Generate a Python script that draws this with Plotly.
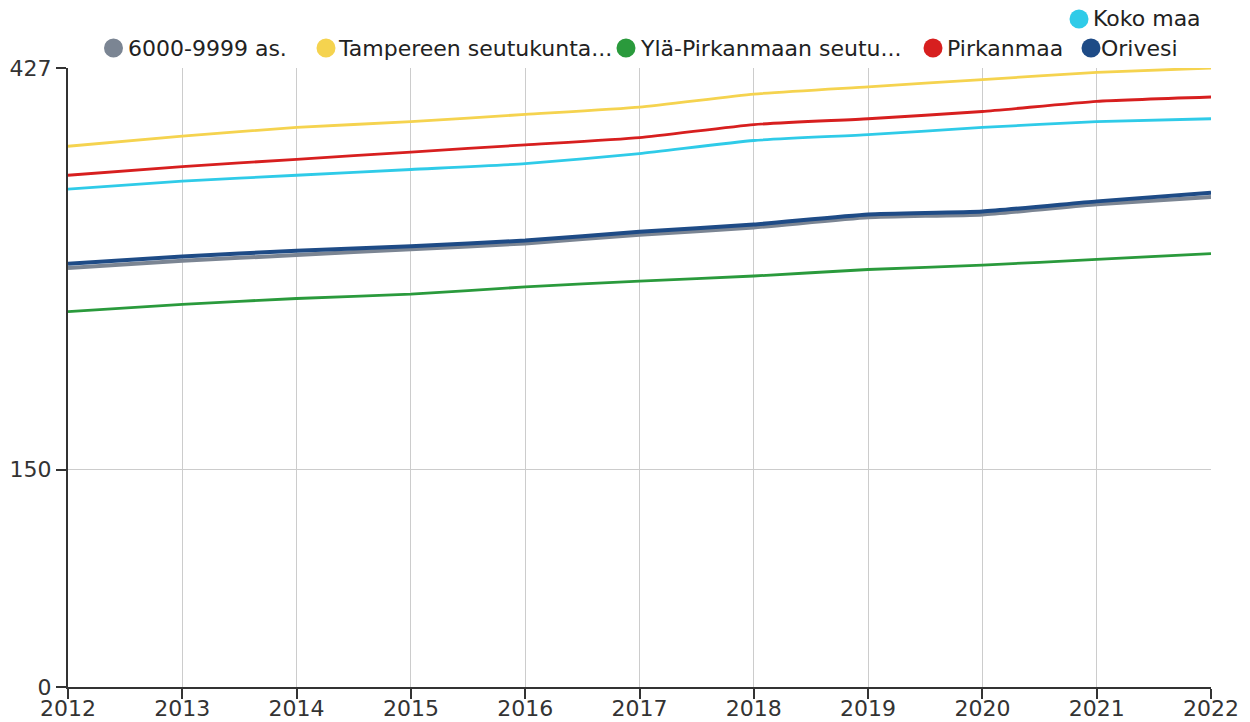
import plotly.graph_objects as go

years = [2012, 2013, 2014, 2015, 2016, 2017, 2018, 2019, 2020, 2021, 2022]

names = ["6000-9999 as.", "Tampereen seutukunta...", "Ylä-Pirkanmaan seutu...", "Pirkanmaa", "Orivesi", "Koko maa"]
colors = ["#7b8593", "#f5d34f", "#2a9a3c", "#d71f1f", "#1e4b86", "#2fcbe8"]

v_6000 = [289, 294, 298, 302, 306, 312, 317, 324, 326, 333, 338]
v_tampere = [373, 380, 386, 390, 395, 400, 409, 414, 419, 424, 427]
v_yla = [259, 264, 268, 271, 276, 280, 283.5, 288, 291, 295, 299]
v_pirkanmaa = [353, 359, 364, 369, 374, 379, 388, 392, 397, 404, 407]
v_orivesi = [292, 297, 301, 304, 308, 314, 319, 326, 328, 335, 341]
v_koko = [343.5, 349, 353, 357, 361, 368, 377, 381, 386, 390, 392]

series = [v_6000, v_tampere, v_yla, v_pirkanmaa, v_orivesi, v_koko]
widths = [4, 2.8, 2.8, 2.8, 4, 2.8]

y_ticks = [0, 150, 427]

# page has an 8px body margin; size the figure so the plot area lands at (68..1211, 68..687)
OFF = 8
W, H = 1242, 714
ML, MR, MT, MB = 60, 39, 60, 35
PW, PH = W - ML - MR, H - MT - MB

fig = go.Figure()

order = [0, 1, 2, 3, 5, 4]
for i in order:
    fig.add_trace(go.Scatter(
        x=years, y=series[i], mode="lines", name=names[i],
        line=dict(color=colors[i], width=widths[i], shape="spline", smoothing=0.5),
        showlegend=False, hoverinfo="x+y+name",
    ))

# custom legend: (marker center x, text left x, row center y) in page pixels
legend_pos = [
    (113.5, 127, 48),
    (326, 337, 48),
    (626, 639, 48),
    (933, 946, 48),
    (1091, 1100, 48),
    (1079, 1092, 19),
]
shapes = []
annotations = []
for i, (mx, tx, py) in enumerate(legend_pos):
    xp = (mx - OFF - ML) / PW
    yp = (H - MB - (py - OFF)) / PH
    shapes.append(dict(
        type="circle", xref="paper", yref="paper",
        xsizemode="pixel", ysizemode="pixel",
        xanchor=xp, yanchor=yp, x0=-9.5, x1=9.5, y0=-9.5, y1=9.5,
        fillcolor=colors[i], line=dict(width=0), layer="above",
    ))
    annotations.append(dict(
        text=names[i], xref="paper", yref="paper",
        x=(tx - OFF - ML) / PW, y=yp, xanchor="left", yanchor="middle",
        showarrow=False, borderpad=0,
        font=dict(family="DejaVu Sans", size=22, color="#222222"),
    ))

fig.update_layout(
    width=W, height=H,
    margin=dict(l=ML, r=MR, t=MT, b=MB),
    paper_bgcolor="white", plot_bgcolor="white",
    showlegend=False,
    font=dict(family="DejaVu Sans", size=22, color="#333333"),
    xaxis=dict(
        range=[2012, 2022], tickvals=years, ticktext=[str(y) for y in years],
        showgrid=True, gridcolor="#cccccc", gridwidth=1,
        showline=True, linecolor="#333333", linewidth=2,
        ticks="outside", ticklen=10, tickcolor="#333333", tickwidth=2,
        ticklabelstandoff=-9,
        zeroline=False, automargin=False,
        tickfont=dict(family="DejaVu Sans", size=22, color="#333333"),
    ),
    yaxis=dict(
        range=[0, 427], tickvals=y_ticks, ticktext=[str(v) for v in y_ticks],
        showgrid=True, gridcolor="#cccccc", gridwidth=1,
        showline=True, linecolor="#333333", linewidth=2,
        ticks="outside", ticklen=10, tickcolor="#333333", tickwidth=2,
        zeroline=False, automargin=False,
        tickfont=dict(family="DejaVu Sans", size=22, color="#333333"),
    ),
    shapes=shapes,
    annotations=annotations,
)

fig.write_html("out.html")
